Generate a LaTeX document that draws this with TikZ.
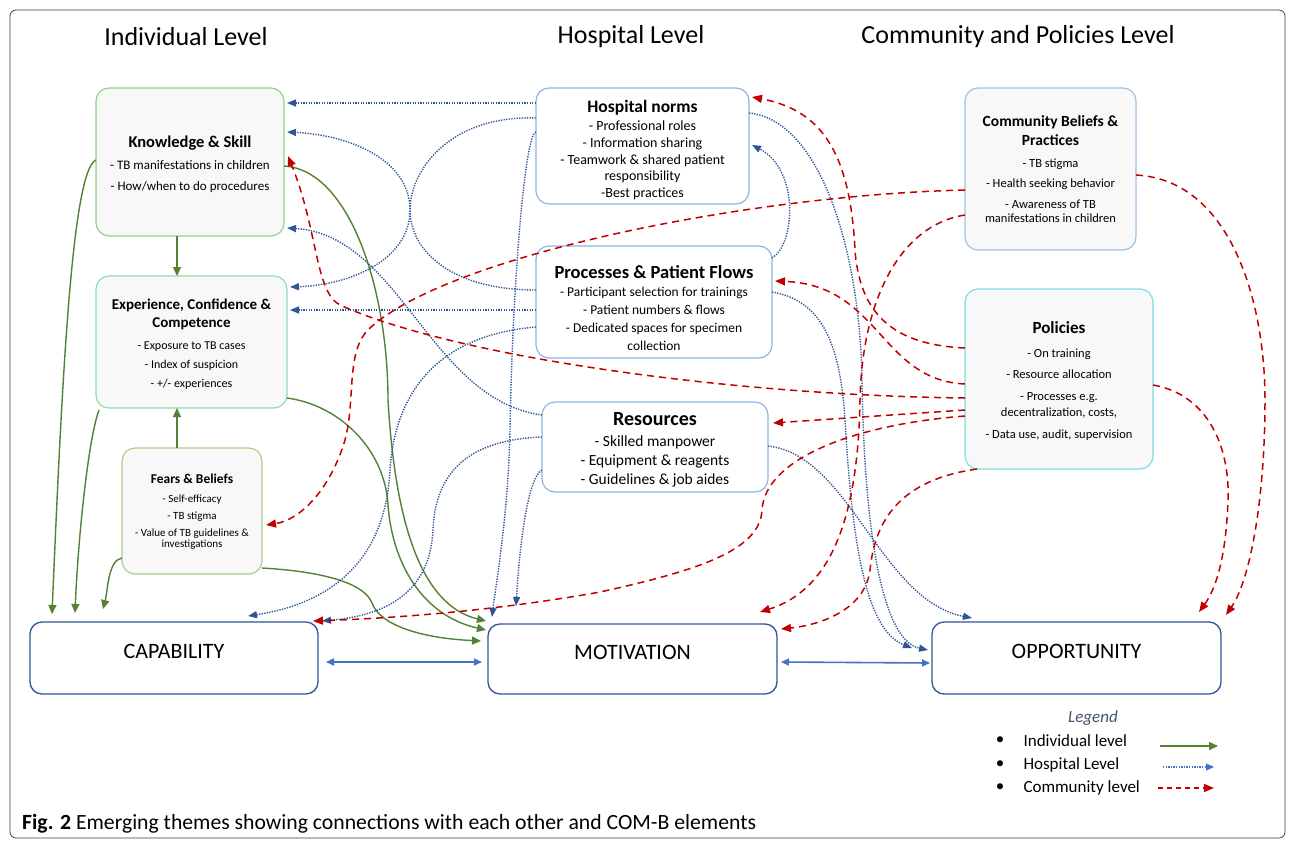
\documentclass[tikz,border=0pt]{standalone}
\usepackage{fontspec}
\setmainfont{Carlito}
\usetikzlibrary{arrows.meta}
\definecolor{indg}{HTML}{538135}
\definecolor{hospb}{HTML}{2F5597}
\definecolor{commr}{HTML}{C00000}
\definecolor{combb}{HTML}{4472C4}
\definecolor{ksline}{HTML}{92D38C}
\definecolor{ecline}{HTML}{8FDDB8}
\definecolor{fbline}{HTML}{A9D18E}
\definecolor{hline}{HTML}{8DB6E2}
\definecolor{cbline}{HTML}{9DC3E6}
\definecolor{poline}{HTML}{7FDCE0}
\definecolor{boxfill}{HTML}{F7F8F7}
\definecolor{legendc}{HTML}{44546A}
\newcommand\fsz[2]{\fontsize{#1}{#2}\selectfont}
\begin{document}
\begin{tikzpicture}[x=1pt,y=-1pt,
  themebox/.style={draw, line width=1.2pt, rounded corners=13pt, inner sep=0pt, outer sep=0pt, fill=boxfill},
  hospbox/.style={themebox, draw=hline, fill=white},
  boxtext/.style={align=center, inner sep=0pt},
  combbox/.style={draw=hospb, line width=1.3pt, rounded corners=12pt, fill=white, inner sep=0pt, outer sep=0pt},
  ttl/.style={font=\fsz{26}{26}},
  ind/.style={draw=indg, line width=1.4pt, -{Triangle[length=9pt,width=8pt]}},
  hosp/.style={draw=hospb, line width=1.4pt, dash pattern=on 1.3pt off 1.3pt, -{Triangle[length=9pt,width=7pt]}},
  comm/.style={draw=commr, line width=1.5pt, dash pattern=on 7pt off 5pt, -{Triangle[length=10pt,width=8pt]}},
  comb/.style={draw=combb, line width=1.6pt, {Triangle[length=8pt,width=7pt]}-{Triangle[length=8pt,width=7pt]}},
  lgtext/.style={anchor=west, font=\fsz{17}{17}}
]
\useasboundingbox (0,0) rectangle (1295,841);
\fill[white] (0,0) rectangle (1295,841);
\draw[gray!50!black, line width=0.8pt, rounded corners=6pt] (10,10) rectangle (1285,838);

% level titles
\node[ttl] (tInd) at (186,37) {Individual Level};
\node[ttl] (tHos) at (631,37) {Hospital Level};
\node[ttl] (tCom) at (1018,37) {Community and Policies Level};

% individual level boxes
\node[themebox, draw=ksline, minimum width=188pt, minimum height=148pt] (KS) at (190,162) {};
\node[boxtext, font=\fsz{13}{15.6}] (KSt) at (190,164)
  {{\fsz{16.5}{16.5}\bfseries Knowledge \& Skill}\\[6.5pt]
   - TB manifestations in children\\[5pt]
   - How/when to do procedures};
\node[themebox, draw=ecline, minimum width=191pt, minimum height=132pt] (EC) at (191.5,342) {};
\node[boxtext, font=\fsz{12}{14.4}] (ECt) at (191.5,344)
  {{\fsz{15}{15}\bfseries Experience, Confidence \&}\\[4pt]
   {\fsz{15}{15}\bfseries Competence}\\[7.2pt]
   - Exposure to TB cases\\[4.6pt]
   - Index of suspicion\\[5pt]
   - +/- experiences};
\node[themebox, draw=fbline, minimum width=140pt, minimum height=126pt] (FB) at (192,511) {};
\node[boxtext, font=\fsz{11}{13.2}] (FBt) at (192,512)
  {{\fsz{13.5}{13.5}\bfseries Fears \& Beliefs}\\[5.2pt]
   - Self-efficacy\\[4.1pt]
   - TB stigma\\[3.8pt]
   - Value of TB guidelines \&\\[-1.9pt]
   investigations};

% hospital level boxes
\node[hospbox, minimum width=213pt, minimum height=116pt] (HN) at (642.5,146) {};
\node[boxtext, font=\fsz{14}{16.7}] (HNt) at (642.5,150)
  {{\fsz{17.5}{17.5}\bfseries Hospital norms}\\[1.3pt]
   - Professional roles\\
   - Information sharing\\
   - Teamwork \& shared patient\\
   responsibility\\
   -Best practices};
\node[hospbox, minimum width=236pt, minimum height=112pt] (PF) at (654,302) {};
\node[boxtext, font=\fsz{13.5}{17.8}] (PFt) at (654,308)
  {{\fsz{18.5}{18.5}\bfseries Processes \& Patient Flows}\\
   - Participant selection for trainings\\
   - Patient numbers \& flows\\
   - Dedicated spaces for specimen\\
   collection};
\node[hospbox, minimum width=226pt, minimum height=90pt] (RS) at (655,447) {};
\node[boxtext, font=\fsz{15.5}{19.3}] (RSt) at (655,450)
  {{\fsz{20}{20}\bfseries Resources}\\[1.4pt]
   - Skilled manpower\\
   - Equipment \& reagents\\
   - Guidelines \& job aides};

% community level boxes
\node[themebox, draw=cbline, minimum width=171pt, minimum height=162pt] (CB) at (1050.5,169) {};
\node[boxtext, font=\fsz{12.5}{15}] (CBt) at (1050.5,169)
  {{\fsz{15.5}{15.5}\bfseries Community Beliefs \&}\\[3.3pt]
   {\fsz{15.5}{15.5}\bfseries Practices}\\[7pt]
   - TB stigma\\[5.7pt]
   - Health seeking behavior\\[6pt]
   - Awareness of TB\\[-1.7pt]
   manifestations in children};
\node[themebox, draw=poline, minimum width=188pt, minimum height=180pt] (PO) at (1059,379) {};
\node[boxtext, font=\fsz{12.5}{15}] (POt) at (1059,381)
  {{\fsz{17}{17}\bfseries Policies}\\[8.7pt]
   - On training\\[6.7pt]
   - Resource allocation\\[6.6pt]
   - Processes e.g.\\[1.4pt]
   decentralization, costs,\\[6.6pt]
   - Data use, audit, supervision};

% COM-B boxes
\node[combbox, minimum width=288pt, minimum height=72pt,
  label={[name=CAPt, font=\fsz{22}{22}, yshift=7pt]center:CAPABILITY}] (CAP) at (174,658) {};
\node[combbox, minimum width=289pt, minimum height=70pt,
  label={[name=MOTt, font=\fsz{22}{22}, yshift=7pt]center:MOTIVATION}] (MOT) at (632.5,659) {};
\node[combbox, minimum width=289pt, minimum height=72pt,
  label={[name=OPPt, font=\fsz{22}{22}, yshift=7pt]center:OPPORTUNITY}] (OPP) at (1076.5,658) {};

% individual level connectors
\draw[ind] ([xshift=-13pt]KS.south) -- ([xshift=-14.5pt]EC.north);
\draw[ind] ([xshift=-15pt]FB.north) -- ([xshift=-14.5pt]EC.south);
\draw[ind] ([yshift=2pt]KS.west) .. controls (72,170) and (62,380) .. ([xshift=22pt,yshift=8pt]CAP.north west);
\draw[ind] ([xshift=3pt,yshift=-2pt]EC.south west) .. controls (88,440) and (78,540) .. ([xshift=45pt,yshift=9pt]CAP.north west);
\draw[ind] ([yshift=-47pt]FB.west) .. controls (108,560) and (108,590) .. ([xshift=73pt,yshift=13pt]CAP.north west);
\draw[ind] ([yshift=-4pt]KS.east) .. controls (350,170) and (388,290) .. (388,400) .. controls (395,520) and (420,605) .. ([xshift=-2pt,yshift=3pt]MOT.north west);
\draw[ind] ([yshift=-56pt]EC.east) .. controls (340,405) and (385,450) .. (388,505) .. controls (392,560) and (420,615) .. ([xshift=-2pt,yshift=29pt]MOT.west);
\draw[ind] ([yshift=-57pt]FB.east) .. controls (330,572) and (365,585) .. (372,603) .. controls (380,625) and (420,638) .. ([xshift=-7pt,yshift=18pt]MOT.west);

% hospital level connectors
\draw[hosp] ([yshift=43pt]HN.west) -- ([xshift=3pt,yshift=59pt]KS.east);
\draw[hosp] ([yshift=28pt]HN.west) .. controls (450,115) and (410,170) .. (410,210) .. controls (410,260) and (350,285) .. ([xshift=3pt,yshift=55pt]EC.east);
\draw[hosp] ([yshift=12pt]PF.west) .. controls (450,290) and (410,250) .. (410,210) .. controls (410,160) and (350,135) .. ([xshift=3pt,yshift=30pt]KS.east);
\draw[hosp] ([yshift=32pt]RS.west) .. controls (430,400) and (400,235) .. ([xshift=3pt,yshift=-66pt]KS.east);
\draw[hosp] ([yshift=-8pt]PF.west) -- ([xshift=3pt,yshift=32pt]EC.east);
\draw[hosp] ([yshift=14pt]HN.west) .. controls (524,134) and (512,300) .. (510,430) .. controls (508,520) and (495,590) .. ([xshift=4pt,yshift=7pt]MOT.north west);
\draw[hosp] ([yshift=-23pt]RS.west) .. controls (528,478) and (520,540) .. ([xshift=28pt,yshift=18pt]MOT.north west);
\draw[hosp] ([yshift=-25pt]PF.west) .. controls (440,335) and (395,390) .. (390,470) .. controls (385,570) and (320,605) .. ([xshift=-70pt,yshift=6pt]CAP.north east);
\draw[hosp] ([yshift=10pt]RS.west) .. controls (460,440) and (435,480) .. (433,530) .. controls (430,590) and (390,615) .. ([xshift=4pt,yshift=1pt]CAP.north east);
\draw[hosp] ([yshift=44pt]PF.east) .. controls (795,245) and (800,170) .. ([xshift=3pt,yshift=1pt]HN.east);
\draw[hosp] ([yshift=33pt]HN.east) .. controls (820,120) and (860,250) .. (862,380) .. controls (864,520) and (880,640) .. ([xshift=-4pt,yshift=8pt]OPP.west);
\draw[hosp] ([yshift=10pt]PF.east) .. controls (820,300) and (840,340) .. (845,420) .. controls (852,540) and (865,630) .. ([xshift=-20pt,yshift=10pt]OPP.west);
\draw[hosp] ([yshift=1pt]RS.east) .. controls (850,455) and (880,600) .. ([xshift=40pt,yshift=4pt]OPP.north west);

% COM-B links
\draw[comb] ([xshift=8pt,yshift=-4pt]CAP.east) -- ([xshift=-6pt,yshift=-3pt]MOT.west);
\draw[comb] ([xshift=4pt,yshift=-3pt]MOT.east) -- ([xshift=-2pt,yshift=-5pt]OPP.west);

% community level connectors
\draw[comm] ([yshift=-21pt]CB.west) .. controls (750,195) and (450,255) .. (370,328) .. controls (345,350) and (356,400) .. (345,440) .. controls (330,490) and (300,520) .. ([xshift=4pt,yshift=-14pt]FB.east);
\draw[comm] ([yshift=-46pt]CB.west) .. controls (900,225) and (862,300) .. (860,400) .. controls (858,520) and (830,590) .. ([xshift=-17pt,yshift=12pt]MOT.north east);
\draw[comm] ([yshift=-6pt]CB.east) .. controls (1230,180) and (1265,300) .. (1265,400) .. controls (1265,500) and (1250,580) .. ([xshift=5pt,yshift=7pt]OPP.north east);
\draw[comm] ([yshift=31pt]PO.west) .. controls (900,345) and (860,320) .. (855,250) .. controls (850,150) and (820,110) .. ([xshift=3pt,yshift=49pt]HN.east);
\draw[comm] ([yshift=-5pt]PO.west) .. controls (880,380) and (880,285) .. ([xshift=3pt,yshift=21pt]PF.east);
\draw[comm] ([yshift=-19pt]PO.west) .. controls (720,395) and (450,355) .. (340,305) .. controls (315,292) and (318,230) .. ([xshift=4pt,yshift=6pt]KS.east);
\draw[comm] ([yshift=-31pt]PO.west) -- ([xshift=5pt,yshift=24pt]RS.east);
\draw[comm] ([yshift=-37pt]PO.west) .. controls (850,425) and (765,460) .. (762,510) .. controls (760,550) and (700,570) .. (600,592) .. controls (500,610) and (400,618) .. ([xshift=-5pt,yshift=1pt]CAP.north east);
\draw[comm] ([xshift=12pt]PO.south west) .. controls (900,480) and (875,520) .. (870,570) .. controls (865,610) and (820,625) .. ([xshift=4pt,yshift=-5pt]MOT.north east);
\draw[comm] ([yshift=-6pt]PO.east) .. controls (1210,395) and (1230,450) .. (1228,500) .. controls (1226,560) and (1215,590) .. ([xshift=-22pt,yshift=10pt]OPP.north east);

% legend
\node[font=\fsz{17}{17}\itshape, text=legendc] (lgT) at (1093,718) {Legend};
\node[font=\fsz{17}{17}] (bul1) at (1000,741) {\textbullet};
\node[font=\fsz{17}{17}] (bul2) at (1000,765) {\textbullet};
\node[font=\fsz{17}{17}] (bul3) at (1000,788) {\textbullet};
\node[lgtext] (lg1) at (1020,741) {Individual level};
\node[lgtext] (lg2) at (1020,765) {Hospital Level};
\node[lgtext] (lg3) at (1020,788) {Community level};
\coordinate (a1s) at (1160,746); \coordinate (a1e) at (1218,746);
\coordinate (a2s) at (1163,767); \coordinate (a2e) at (1214,767);
\coordinate (a3s) at (1158,788); \coordinate (a3e) at (1214,788);
\draw[ind] (a1s) -- (a1e);
\draw[hosp, draw=combb, line width=1.2pt, -{Triangle[length=8pt,width=7pt,fill=combb]}] (a2s) -- (a2e);
\draw[comm, dash pattern=on 5pt off 4pt] (a3s) -- (a3e);

% caption
\node[anchor=base west, font=\fsz{21.7}{21.7}, inner sep=0pt] (caption) at (22,829)
  {\textbf{Fig. 2} Emerging themes showing connections with each other and COM-B elements};
\end{tikzpicture}
\end{document}
